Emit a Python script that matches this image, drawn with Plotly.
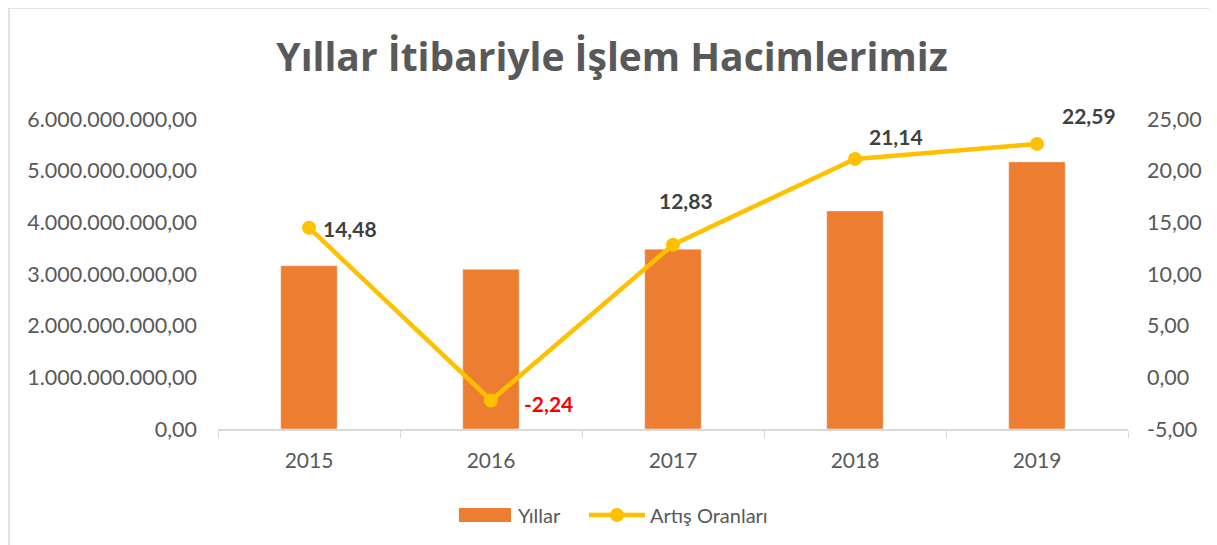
import plotly.graph_objects as go

years = ["2015", "2016", "2017", "2018", "2019"]
volumes = [3.16e9, 3.09e9, 3.48e9, 4.22e9, 5.17e9]
rates = [14.48, -2.24, 12.83, 21.14, 22.59]
rate_labels = ["14,48", "-2,24", "12,83", "21,14", "22,59"]
label_colors = ["#404040", "#FF0000", "#404040", "#404040", "#404040"]
label_xshift = [41, 57, 13, 41, 52]
label_yshift = [-1, -3, 44, 22, 28]

left_ticks = [0, 1e9, 2e9, 3e9, 4e9, 5e9, 6e9]
left_ticktext = ["0,00", "1.000.000.000,00", "2.000.000.000,00", "3.000.000.000,00",
                 "4.000.000.000,00", "5.000.000.000,00", "6.000.000.000,00"]
right_ticks = [-5, 0, 5, 10, 15, 20, 25]
right_ticktext = ["-5,00", "0,00", "5,00", "10,00", "15,00", "20,00", "25,00"]

FONT = "Lato"
BAR_C = "#ED7D31"
LINE_C = "#FFC000"
TXT_C = "#595959"

# page has an 8px body margin -> figure is 8px smaller and margins compensate
OFF = 8
W, H = 1217 - OFF, 545 - OFF
PL, PT, PW, PH = 218, 119, 910, 310  # plot area in page pixels
L, T = PL - OFF, PT - OFF
R, B = W - L - PW, H - T - PH


def px(xp):
    return (xp - PL) / PW


def py(yp):
    return (PT + PH - yp) / PH


fig = go.Figure()
fig.add_trace(go.Bar(x=years, y=volumes, name="Yıllar", marker_color=BAR_C,
                     width=0.31, yaxis="y", showlegend=False))
fig.add_trace(go.Scatter(x=years, y=rates, name="Artış Oranları", mode="lines+markers",
                         line=dict(color=LINE_C, width=4.5),
                         marker=dict(color=LINE_C, size=14), yaxis="y2", showlegend=False))

for i, (v, t, c, dx, dy) in enumerate(zip(rates, rate_labels, label_colors, label_xshift, label_yshift)):
    fig.add_annotation(x=i, y=v, xref="x", yref="y2", text=f"<b>{t}</b>", showarrow=False,
                       xshift=dx, yshift=dy, font=dict(family=FONT, size=21, color=c))

# outer chart border
fig.add_shape(type="rect", xref="paper", yref="paper",
              x0=px(9), x1=px(1240), y0=py(570), y1=py(8),
              line=dict(color="#D9D9D9", width=1.5), fillcolor="rgba(0,0,0,0)", layer="below")

# legend (drawn)
LY = 515
fig.add_shape(type="rect", xref="paper", yref="paper", x0=px(459), x1=px(511),
              y0=py(LY + 7), y1=py(LY - 7), line=dict(width=0), fillcolor=BAR_C)
fig.add_annotation(xref="paper", yref="paper", x=px(516), y=py(LY), xanchor="left", yanchor="middle",
                   text="Yıllar", showarrow=False, font=dict(family=FONT, size=20, color=TXT_C))
fig.add_shape(type="line", xref="paper", yref="paper", x0=px(589), x1=px(645),
              y0=py(LY), y1=py(LY), line=dict(color=LINE_C, width=4.5))
fig.add_shape(type="circle", xref="paper", yref="paper", x0=px(610), x1=px(624),
              y0=py(LY + 7), y1=py(LY - 7), line=dict(width=0), fillcolor=LINE_C)
fig.add_annotation(xref="paper", yref="paper", x=px(648), y=py(LY), xanchor="left", yanchor="middle",
                   text="Artış Oranları", showarrow=False, font=dict(family=FONT, size=20, color=TXT_C))

fig.update_layout(
    width=W, height=H,
    margin=dict(l=L, r=R, t=T, b=B, autoexpand=False),
    paper_bgcolor="white", plot_bgcolor="white",
    title=dict(text="<b>Yıllar İtibariyle İşlem Hacimlerimiz</b>", x=(612 - OFF) / W, xanchor="center",
               y=1 - (57 - OFF) / H, yanchor="middle",
               font=dict(family="Open Sans", size=39, color=TXT_C)),
    xaxis=dict(type="category", range=[-0.5, 4.5], showgrid=False, showline=True,
               linecolor="#D9D9D9", linewidth=1.5,
               ticks="outside", tickson="boundaries", ticklen=7, tickcolor="#D9D9D9",
               ticklabelstandoff=12,
               tickfont=dict(family=FONT, size=21, color=TXT_C)),
    yaxis=dict(range=[0, 6e9], tickvals=left_ticks, ticktext=left_ticktext, showgrid=False,
               zeroline=False, showline=False, ticks="", ticklabelstandoff=20,
               tickfont=dict(family=FONT, size=21.5, color=TXT_C)),
    yaxis2=dict(range=[-5, 25], tickvals=right_ticks, ticktext=right_ticktext, overlaying="y",
                side="right", showgrid=False, zeroline=False, showline=False, ticks="",
                ticklabelstandoff=18,
                tickfont=dict(family=FONT, size=21.5, color=TXT_C)),
    showlegend=False,
)

fig.write_html("out.html")
